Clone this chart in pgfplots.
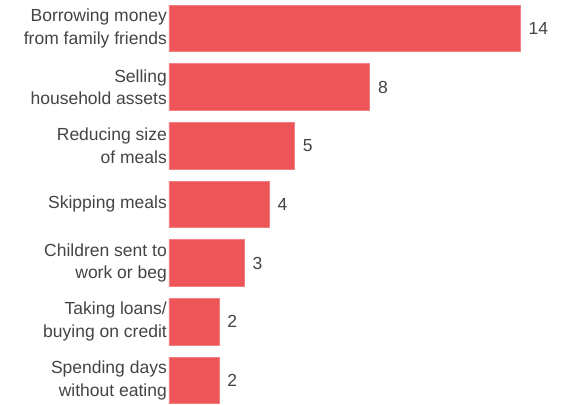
\documentclass[border=0pt]{standalone}
\usepackage{pgfplots}
\pgfplotsset{compat=1.18}
\usepackage{fontspec}
\setmainfont{Liberation Sans}
\definecolor{barred}{HTML}{EE5558}
\definecolor{txtgray}{HTML}{444444}
\begin{document}
\begin{tikzpicture}
\begin{axis}[
    xbar,
    scale only axis,
    width=398pt, height=404pt,
    xmin=0, xmax=15.86,
    ymin=-0.484, ymax=6.404,
    y dir=reverse,
    bar width=46.6pt,
    axis line style={draw=none},
    major tick length=0pt,
    xtick=\empty,
    ytick={0,...,6},
    yticklabels={{Borrowing money\\from family friends},{Selling\\household assets},{Reducing size\\of meals},{Skipping meals},{Children sent to\\work or beg},{Taking loans/\\buying on credit},{Spending days\\without eating}},
    yticklabel style={align=right, font=\fontsize{17.5}{22.5}\selectfont, text=txtgray, inner sep=0pt, xshift=-2pt},
    /pgf/number format/assume math mode=true,
    nodes near coords,
    nodes near coords style={font=\fontsize{17.5}{20}\selectfont, text=txtgray, anchor=west, inner sep=0pt, xshift=8pt},
]
\addplot[fill=barred, draw=barred!75!white, line width=0.6pt] coordinates {
    (14,0) (8,1) (5,2) (4,3) (3,4) (2,5) (2,6)
};
\coordinate (bl) at (rel axis cs:0,1);
\coordinate (tr) at (rel axis cs:1,0);
\end{axis}
\pgfresetboundingbox
\path[use as bounding box] (bl) ++(-169pt,0) rectangle (tr);
\end{tikzpicture}
\end{document}
